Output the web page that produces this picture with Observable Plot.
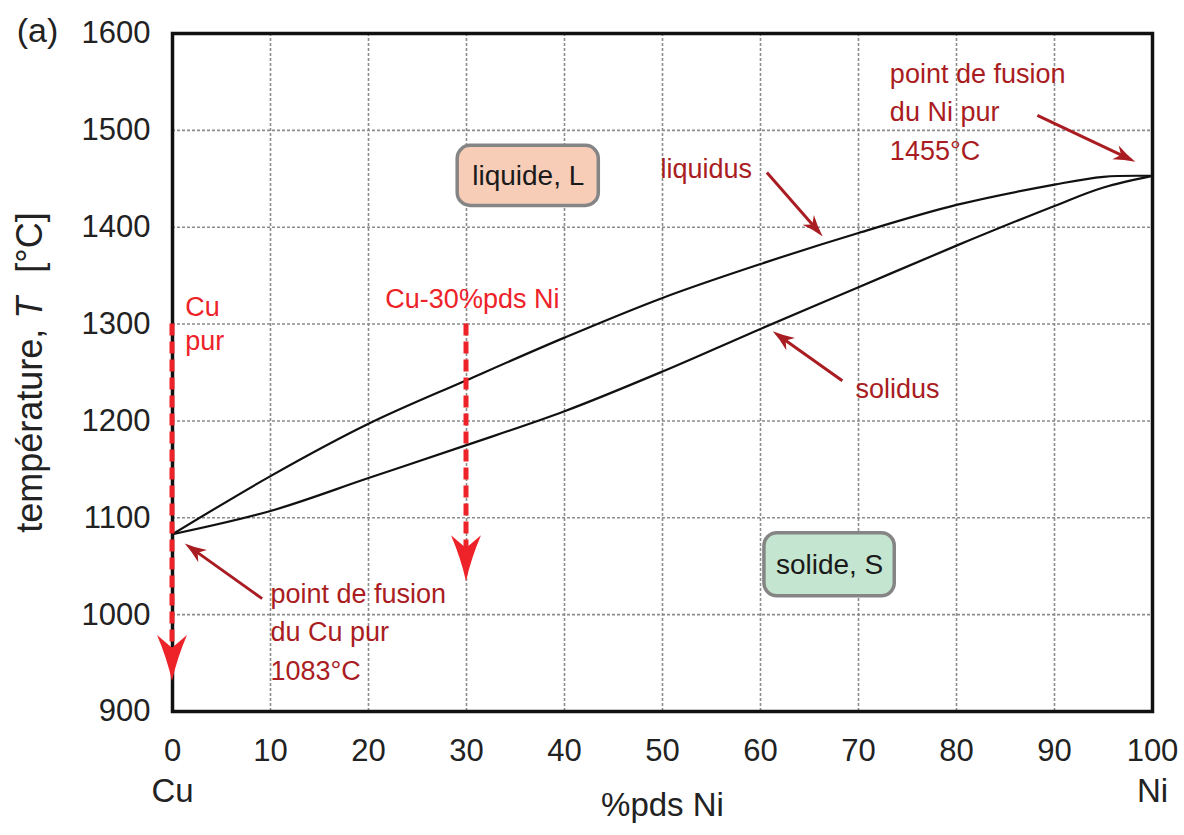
<!DOCTYPE html>
<html>
<head>
<meta charset="utf-8">
<script src="https://cdn.jsdelivr.net/npm/d3@7"></script>
<script src="https://cdn.jsdelivr.net/npm/@observablehq/plot@0.6"></script>
<style>
  html, body { margin: 0; padding: 0; background: #fff; }
  svg { font-family: "Liberation Sans", Arial, sans-serif; }
</style>
</head>
<body>
<div id="chart"></div>
<script>
// ---- data ----
const compNi = [0, 10, 20, 30, 40, 50, 60, 70, 80, 90, 95, 100];
const liquidusT = [1083, 1143, 1197, 1242, 1286, 1327, 1362, 1394, 1423, 1444, 1452, 1453];
const solidusT  = [1083, 1107, 1141, 1175, 1210, 1251, 1295, 1338, 1381, 1422, 1441, 1453];

const xTicks = [0, 10, 20, 30, 40, 50, 60, 70, 80, 90, 100];
const yTicks = [900, 1000, 1100, 1200, 1300, 1400, 1500, 1600];

// vertical red dashed arrows (composition, start T, end T)
const coolX = [0, 30];
const coolFrom = [1300, 1300];
const coolTo = [931, 1034];

// dark-red pointer arrows
const ptrX1 = [9.2, 88.3, 60.7, 68.4];
const ptrT1 = [1016, 1515, 1456, 1241];
const ptrX2 = [1.3, 98.3, 66.4, 61.3];
const ptrT2 = [1073, 1467, 1390, 1292];

// dark-red annotation texts
const annText = ["point de fusion\ndu Cu pur\n1083°C", "point de fusion\ndu Ni pur\n1455°C", "liquidus", "solidus"];
const annX = [10.0, 73.2, 49.8, 69.7];
const annT = [985, 1522, 1464, 1236];

// bright red labels
const cuPurText = ["Cu\npur"];
const cuPurX = [1.3];
const cuPurT = [1302];
const alloyText = ["Cu-30%pds Ni"];
const alloyX = [30.6];
const alloyT = [1326];

// phase boxes
const phaseLabel = ["liquide, L", "solide, S"];
const phaseX1 = [29.1, 60.4];
const phaseX2 = [43.5, 73.7];
const phaseT1 = [1422, 1019];
const phaseT2 = [1484, 1084];
const phaseFill = ["#f7cdb8", "#c4e5cf"];

// ---- derived tables ----
const liquidus = compNi.map((x, i) => ({x, T: liquidusT[i]}));
const solidus = compNi.map((x, i) => ({x, T: solidusT[i]}));
const coolArrows = coolX.map((x, i) => ({x1: x, y1: coolFrom[i], x2: x, y2: coolTo[i]}));
const ptrArrows = ptrX1.map((x, i) => ({x1: x, y1: ptrT1[i], x2: ptrX2[i], y2: ptrT2[i]}));
const ann = annText.map((t, i) => ({t, x: annX[i], T: annT[i]}));
const cuPur = cuPurText.map((t, i) => ({t, x: cuPurX[i], T: cuPurT[i]}));
const alloy = alloyText.map((t, i) => ({t, x: alloyX[i], T: alloyT[i]}));
const phases = phaseLabel.map((t, i) => ({t, x1: phaseX1[i], x2: phaseX2[i], y1: phaseT1[i], y2: phaseT2[i], fill: phaseFill[i]}));

const DARKRED = "#a91d22";
const RED = "#ee2229";

// arrow drawing mark using the plot's scales
function arrowMark(arrows, {color, width, headLen, headW, dash}) {
  return (index, scales) => {
    const g = d3.create("svg:g");
    for (const a of arrows) {
      const x1 = scales.x(a.x1), y1 = scales.y(a.y1), x2 = scales.x(a.x2), y2 = scales.y(a.y2);
      const dx = x2 - x1, dy = y2 - y1, L = Math.hypot(dx, dy);
      const ux = dx / L, uy = dy / L, nx = -uy, ny = ux;
      const bx = x2 - ux * headLen, by = y2 - uy * headLen;
      const sx = bx + ux * headLen * 0.3, sy = by + uy * headLen * 0.3;
      g.append("line")
        .attr("x1", x1).attr("y1", y1).attr("x2", sx).attr("y2", sy)
        .attr("stroke", color).attr("stroke-width", width)
        .attr("stroke-dasharray", dash || null);
      const lx = bx + nx * headW / 2, ly = by + ny * headW / 2;
      const rx = bx - nx * headW / 2, ry = by - ny * headW / 2;
      const mx = bx + ux * headLen * 0.28, my = by + uy * headLen * 0.28;
      const c1x = (lx + x2) / 2 - nx * headW * 0.08, c1y = (ly + y2) / 2 - ny * headW * 0.08;
      const c2x = (rx + x2) / 2 + nx * headW * 0.08, c2y = (ry + y2) / 2 + ny * headW * 0.08;
      g.append("path")
        .attr("d", `M${x2},${y2}Q${c1x},${c1y} ${lx},${ly}L${mx},${my}L${rx},${ry}Q${c2x},${c2y} ${x2},${y2}Z`)
        .attr("fill", color);
    }
    return g.node();
  };
}

const chart = Plot.plot({
  width: 1184,
  height: 835,
  marginLeft: 172,
  marginRight: 32,
  marginTop: 33,
  marginBottom: 124,
  style: {fontFamily: "'Liberation Sans', Arial, sans-serif", background: "white"},
  x: {domain: [0, 100], label: null},
  y: {domain: [900, 1600], label: null},
  marks: [
    Plot.gridX(xTicks, {stroke: "#8c8c8c", strokeOpacity: 1, strokeWidth: 1.6, strokeDasharray: "3,2"}),
    Plot.gridY(yTicks, {stroke: "#8c8c8c", strokeOpacity: 1, strokeWidth: 1.6, strokeDasharray: "3,2"}),
    Plot.axisX(xTicks, {tickSize: 0, tickPadding: 27, fontSize: 31, label: null, color: "#222", tickFormat: d => String(d)}),
    Plot.axisY(yTicks, {tickSize: 0, tickPadding: 22, fontSize: 31, label: null, color: "#222", tickFormat: d => String(d)}),
    Plot.frame({stroke: "#111", strokeWidth: 3.5}),
    Plot.rect(phases, {x1: "x1", x2: "x2", y1: "y1", y2: "y2", fill: "fill", stroke: "#858585", strokeWidth: 3.5, rx: 13}),
    Plot.text(phases, {x: d => (d.x1 + d.x2) / 2, y: d => (d.y1 + d.y2) / 2, text: "t", fontSize: 28, fill: "#1a1a1a"}),
    Plot.line(liquidus, {x: "x", y: "T", curve: "catmull-rom", stroke: "#111", strokeWidth: 2.2}),
    Plot.line(solidus, {x: "x", y: "T", curve: "catmull-rom", stroke: "#111", strokeWidth: 2.2}),
    arrowMark(coolArrows, {color: RED, width: 5, headLen: 46, headW: 30, dash: "12,6"}),
    arrowMark(ptrArrows, {color: DARKRED, width: 3, headLen: 22, headW: 15}),
    Plot.text(ann, {x: "x", y: "T", text: "t", textAnchor: "start", lineAnchor: "middle", lineHeight: 1.42, fontSize: 27, fill: DARKRED}),
    Plot.text(cuPur, {x: "x", y: "T", text: "t", textAnchor: "start", lineAnchor: "middle", lineHeight: 1.25, fontSize: 27, fill: RED}),
    Plot.text(alloy, {x: "x", y: "T", text: "t", textAnchor: "middle", lineAnchor: "middle", fontSize: 27, fill: RED}),
    Plot.text(["Cu", "Ni"], {x: [0, 100], frameAnchor: "bottom", dy: 90, text: d => d, fontSize: 33, fill: "#222"}),
    Plot.text(["%pds Ni"], {frameAnchor: "bottom", dy: 104, fontSize: 33, fill: "#222"}),
    Plot.text(["température, T [°C]"], {frameAnchor: "left", dx: -142, rotate: -90, textAnchor: "middle", lineAnchor: "middle", fontSize: 36, fill: "#222"}),
    Plot.text(["(a)"], {frameAnchor: "top-left", dx: -135, dy: -2, textAnchor: "middle", lineAnchor: "middle", fontSize: 34, fill: "#222"})
  ]
});

// italic T in the y title
d3.select(chart).selectAll("text").each(function () {
  const t = this.textContent;
  if (t === "température, T [°C]") {
    const s = d3.select(this);
    s.text(null);
    s.append("tspan").text("température, ");
    s.append("tspan").attr("font-style", "italic").text("T");
    s.append("tspan").attr("dx", 14).text(" [°C]");
  }
});

document.getElementById("chart").appendChild(chart);
</script>
</body>
</html>
